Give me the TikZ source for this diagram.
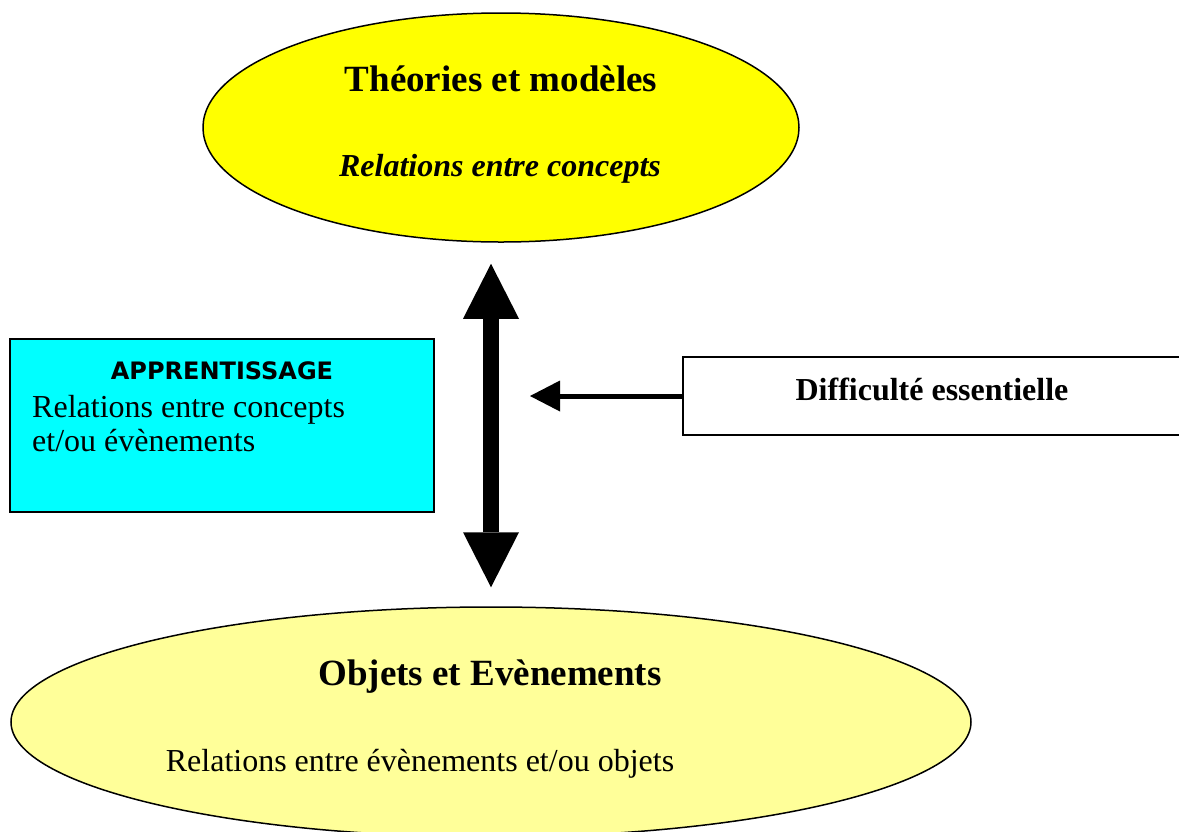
\documentclass[tikz,border=0pt]{standalone}
\usepackage{fontspec}
\setmainfont{Liberation Serif}
\newfontfamily\comicfont{DejaVu Sans}
\usepackage{xcolor}
\usetikzlibrary{arrows.meta, shapes.geometric}
\definecolor{jaune}{HTML}{FFFF00}
\definecolor{jaunepale}{HTML}{FFFF99}
\definecolor{cyanvif}{HTML}{00FFFF}

\begin{document}
\begin{tikzpicture}[x=1pt, y=-1pt,
    bulle/.style={ellipse, draw, line width=1.5pt, inner sep=0pt},
    cadre/.style={rectangle, draw, line width=1.5pt, inner sep=0pt},
    titre/.style={anchor=base, inner sep=0pt, font=\fontsize{37}{40}\selectfont\bfseries},
    texte/.style={anchor=base, inner sep=0pt, font=\fontsize{32}{36}\selectfont}]
    \clip (0,0) rectangle (1179,831);

    % ellipses
    \node[bulle, fill=jaune, minimum width=596pt, minimum height=229pt] (theo) at (501,127.5) {};
    \node[bulle, fill=jaunepale, minimum width=960pt, minimum height=230pt] (objets) at (491,722) {};
    \node[titre] (theotitre) at (501,91) {Théories et modèles};
    \node[texte, font=\fontsize{32}{36}\selectfont\bfseries\itshape] (theosous) at (500,176) {Relations entre concepts};
    \node[titre] (objtitre) at (490,685) {Objets et Evènements};
    \node[texte] (objsous) at (420,771) {Relations entre évènements et/ou objets};

    % cadres
    \node[cadre, fill=cyanvif, minimum width=424pt, minimum height=173pt] (appr) at (222,425.5) {};
    \node[anchor=base, inner sep=0pt, font=\fontsize{24}{28}\comicfont\bfseries] (apprtitre) at (222,379) {APPRENTISSAGE};
    \node[texte, anchor=base west] (appr1) at (32,417) {Relations entre concepts};
    \node[texte, anchor=base west] (appr2) at (32,451) {et/ou évènements};
    \node[cadre, minimum width=502pt, minimum height=78pt] (diff) at (934,396) {};
    \node[texte, font=\fontsize{32}{36}\selectfont\bfseries] (difftexte) at (932,400) {Difficulté essentielle};

    % fleches
    \coordinate (cible) at (530,396);
    \draw[line width=16pt, {Triangle[width=56pt,length=55pt,line width=0pt]}-{Triangle[width=56pt,length=55pt,line width=0pt]},
        shorten <=19pt, shorten >=21pt] (objets.north) -- (objets.north |- theo.south);
    \draw[line width=5pt, -{Triangle[width=31pt,length=30pt,line width=0pt]}] (diff.west) -- (cible);
\end{tikzpicture}
\end{document}
